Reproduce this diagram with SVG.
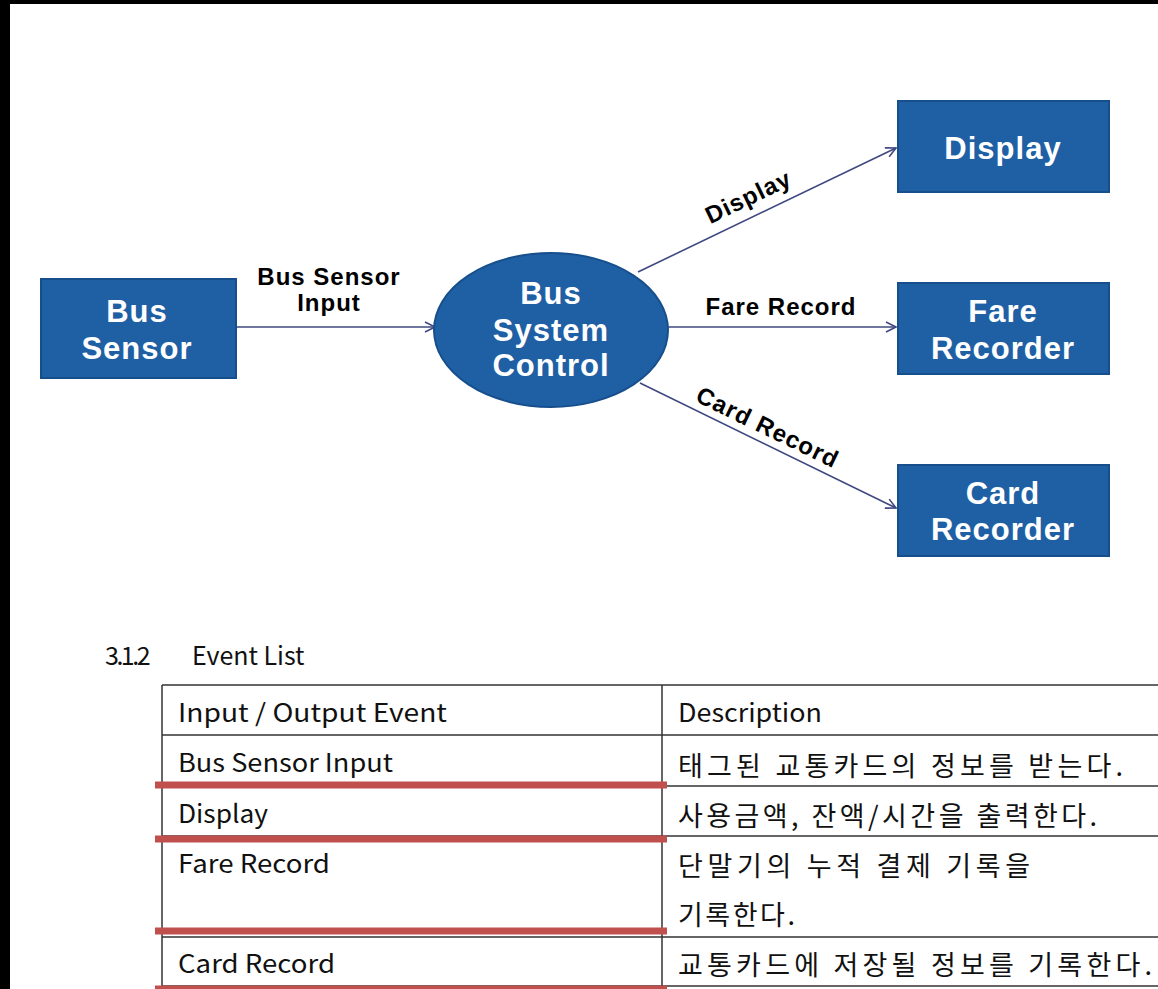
<svg xmlns="http://www.w3.org/2000/svg" width="1158" height="989" viewBox="0 0 1158 989">
<style>
.node{fill:#1f60a5;stroke:#174f8c;stroke-width:2}
.nt{font-family:"Liberation Sans",Arial,sans-serif;font-weight:bold;font-size:31px;fill:#ffffff;text-anchor:middle;letter-spacing:1px}
.lbl{font-family:"Liberation Sans",Arial,sans-serif;font-weight:bold;font-size:24px;fill:#000000;text-anchor:middle;letter-spacing:1px}
.edge{stroke:#3f4880;stroke-width:1.6;fill:none;marker-end:url(#arr)}
.tt{font-family:"Noto Sans CJK KR","Noto Sans",sans-serif;font-size:25px;fill:#111111}
.kr{font-size:27px}
.grid{stroke:#333333;stroke-width:1.5;fill:none}
.red{stroke:#c0504d;stroke-width:7}
</style>
<defs>
<marker id="arr" markerUnits="userSpaceOnUse" markerWidth="14" markerHeight="14" refX="11" refY="6" orient="auto">
<path d="M1,1 L11,6 L1,11" fill="none" stroke="#3f4880" stroke-width="1.6"/>
</marker>
</defs>
<rect x="0" y="0" width="1158" height="989" fill="#ffffff"/>
<rect x="0" y="0" width="1158" height="4" fill="#000000"/>
<rect x="0" y="0" width="10" height="989" fill="#000000"/>

<g id="connectors">
<line class="edge" x1="237" y1="327" x2="435" y2="327"/>
<line class="edge" x1="638" y1="272" x2="896" y2="148"/>
<line class="edge" x1="668" y1="327" x2="896" y2="327"/>
<line class="edge" x1="640" y1="383" x2="896" y2="508"/>
<text class="lbl" x="329" y="285">Bus Sensor</text>
<text class="lbl" x="329" y="311">Input</text>
<text class="lbl" transform="translate(757,215) rotate(-25.6)" x="0" y="-12">Display</text>
<text class="lbl" x="781" y="315">Fare Record</text>
<text class="lbl" transform="translate(761,441) rotate(25.9)" x="0" y="-7">Card Record</text>
</g>

<g id="bus-sensor">
<rect class="node" x="41" y="279" width="195" height="99"/>
<text class="nt" x="137" y="322">Bus</text>
<text class="nt" x="137" y="359">Sensor</text>
</g>

<g id="bus-system-control">
<ellipse class="node" cx="551" cy="330" rx="117" ry="77"/>
<text class="nt" x="551" y="304">Bus</text>
<text class="nt" x="551" y="341">System</text>
<text class="nt" x="551" y="376">Control</text>
</g>

<g id="display">
<rect class="node" x="898" y="101" width="211" height="91"/>
<text class="nt" x="1003" y="159">Display</text>
</g>

<g id="fare-recorder">
<rect class="node" x="898" y="283" width="211" height="91"/>
<text class="nt" x="1003" y="322">Fare</text>
<text class="nt" x="1003" y="359">Recorder</text>
</g>

<g id="card-recorder">
<rect class="node" x="898" y="465" width="211" height="91"/>
<text class="nt" x="1003" y="504">Card</text>
<text class="nt" x="1003" y="540">Recorder</text>
</g>

<g id="event-list">
<text class="tt" x="105" y="665" font-size="28" letter-spacing="-2.5">3.1.2</text>
<text class="tt" x="192" y="665" font-size="28">Event List</text>
<line class="grid" x1="162" y1="685" x2="1158" y2="685"/>
<line class="grid" x1="162" y1="735" x2="1158" y2="735"/>
<line class="grid" x1="162" y1="786" x2="1158" y2="786"/>
<line class="grid" x1="162" y1="836" x2="1158" y2="836"/>
<line class="grid" x1="162" y1="937" x2="1158" y2="937"/>
<line class="grid" x1="162" y1="986" x2="1158" y2="986"/>
<line class="grid" x1="162" y1="685" x2="162" y2="986"/>
<line class="grid" x1="662" y1="685" x2="662" y2="989"/>
<text class="tt" x="178" y="722" textLength="269" lengthAdjust="spacingAndGlyphs">Input / Output Event</text>
<text class="tt" x="678" y="722" textLength="144" lengthAdjust="spacingAndGlyphs">Description</text>
<text class="tt" x="178" y="772" textLength="215" lengthAdjust="spacingAndGlyphs">Bus Sensor Input</text>
<text class="tt" x="178" y="823" textLength="90" lengthAdjust="spacingAndGlyphs">Display</text>
<text class="tt" x="178" y="873" textLength="152" lengthAdjust="spacingAndGlyphs">Fare Record</text>
<text class="tt" x="178" y="973" textLength="157" lengthAdjust="spacingAndGlyphs">Card Record</text>
<text class="tt kr" x="678" y="776" textLength="445" lengthAdjust="spacing">태그된 교통카드의 정보를 받는다.</text>
<text class="tt kr" x="678" y="826" textLength="419" lengthAdjust="spacing">사용금액, 잔액/시간을 출력한다.</text>
<text class="tt kr" x="678" y="876" textLength="352" lengthAdjust="spacing">단말기의 누적 결제 기록을</text>
<text class="tt kr" x="678" y="925" textLength="117" lengthAdjust="spacing">기록한다.</text>
<text class="tt kr" x="678" y="975" textLength="474" lengthAdjust="spacing">교통카드에 저장될 정보를 기록한다.</text>
<line class="red" x1="155" y1="785" x2="667" y2="785"/>
<line class="red" x1="155" y1="839" x2="667" y2="839"/>
<line class="red" x1="155" y1="931" x2="667" y2="931"/>
<line class="red" x1="155" y1="989" x2="667" y2="989"/>
</g>
</svg>
